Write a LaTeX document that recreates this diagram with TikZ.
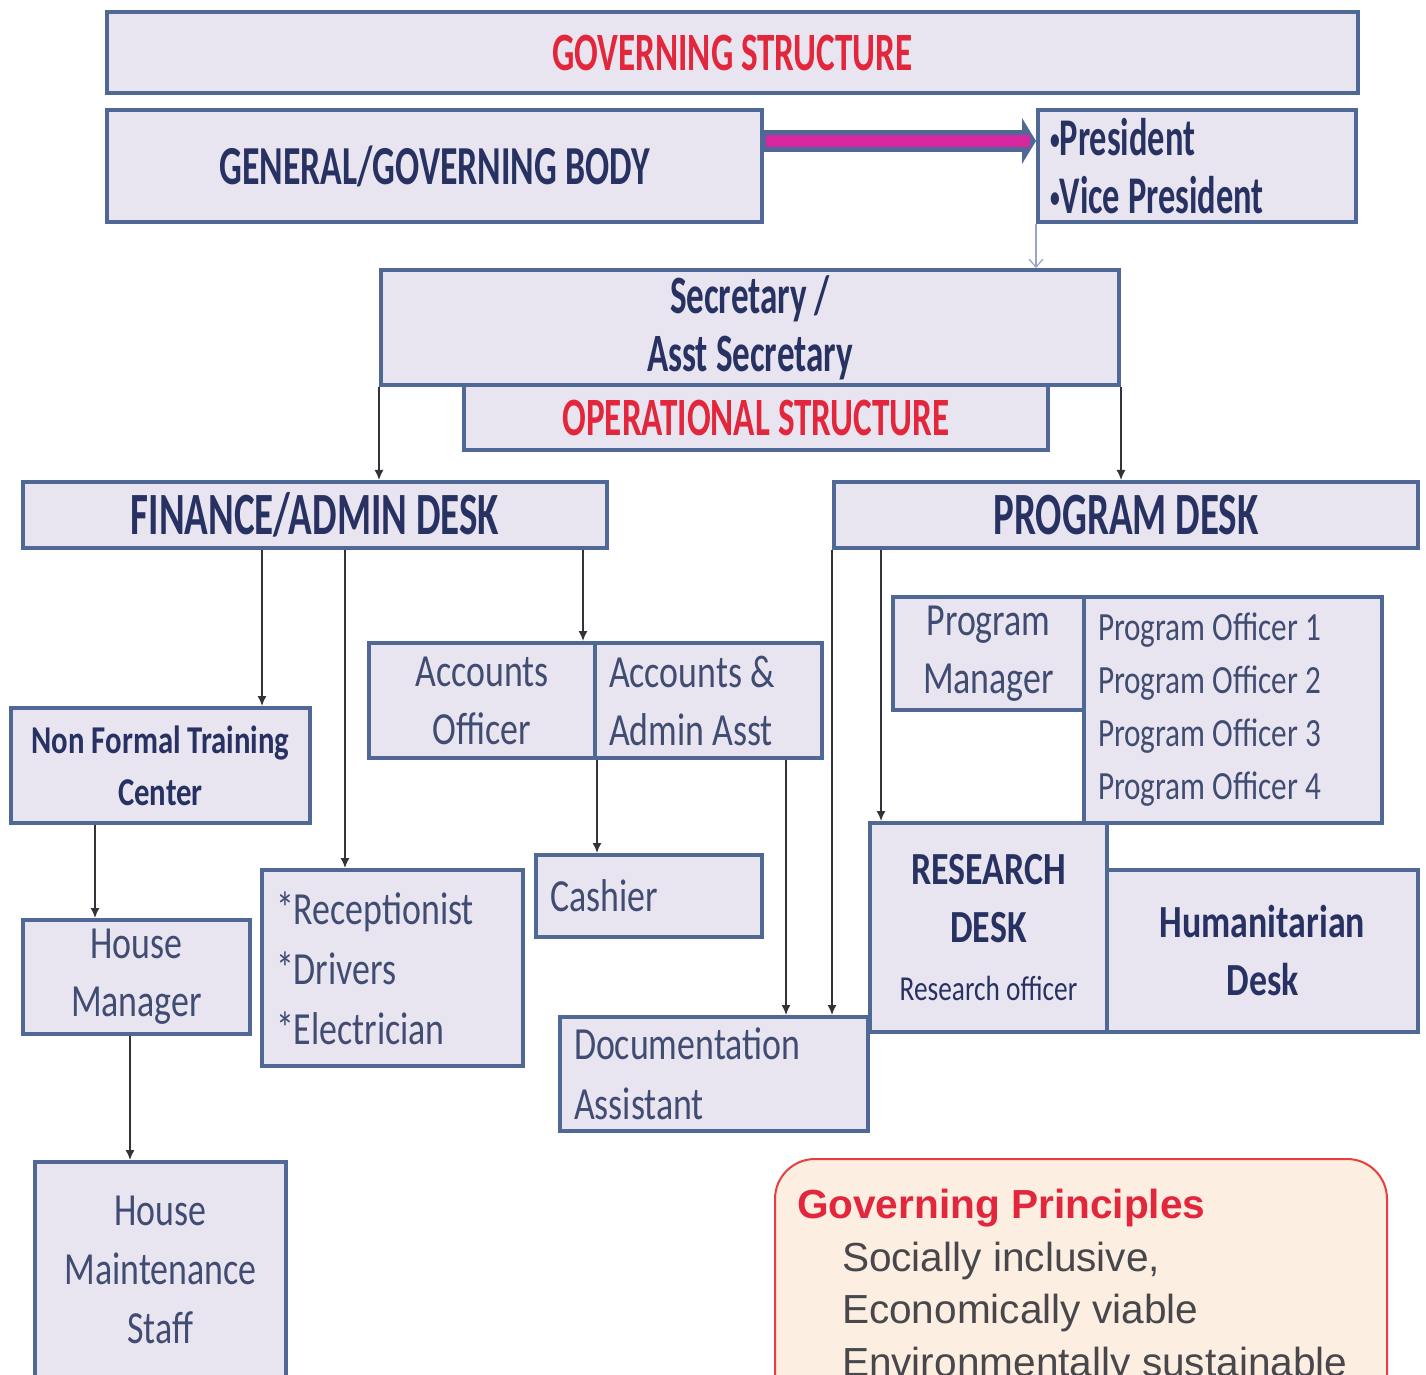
\documentclass[tikz,border=0pt]{standalone}
\usepackage{fontspec}
\usetikzlibrary{arrows.meta}
\newfontfamily\orgfont[FakeStretch=0.78]{Carlito}
\newfontfamily\headfont[FakeStretch=0.65]{Carlito}
\newfontfamily\gpfont{Liberation Sans}
\newcommand\fsz[2]{\fontsize{#1}{#2}\selectfont}
\newcommand\smallbul{{\fsz{15pt}{29pt}\raisebox{3pt}{\textbullet}}}

\definecolor{boxfill}{RGB}{233,229,240}
\definecolor{boxline}{RGB}{79,104,150}
\definecolor{navytext}{RGB}{40,50,98}
\definecolor{softtext}{RGB}{64,76,114}
\definecolor{titlered}{RGB}{226,38,60}
\definecolor{barpink}{RGB}{214,38,160}
\definecolor{arrowgrey}{RGB}{50,50,56}
\definecolor{lightarrow}{RGB}{150,166,202}
\definecolor{gpfill}{RGB}{253,238,226}
\definecolor{gpline}{RGB}{232,62,62}
\definecolor{gptext}{RGB}{72,72,76}

\tikzset{
  orgbox/.style={rectangle, draw=boxline, fill=boxfill, line width=2pt,
    inner sep=0pt, align=center, text=navytext, font=\orgfont\fsz{23pt}{29pt}},
  headbox/.style={orgbox, font=\headfont\bfseries\fsz{#1}{29pt}},
  wh/.style 2 args={minimum width=#1*0.5pt, minimum height=#2*0.5pt},
  lbox/.style 2 args={orgbox, align=flush left, inner xsep=7pt, text width=#1,
    minimum height=#2*0.5pt},
  arr/.style={draw=arrowgrey, line width=0.75pt, -{Latex[length=5pt,width=4.5pt]}},
}

\begin{document}
\begin{tikzpicture}[x=0.5pt, y=-0.5pt]
  \path[use as bounding box, fill=white] (0,0) rectangle (1426,1375);

  % governing structure
  \node[headbox=27pt, wh={1251}{81}, text=titlered] (title) at (732.5,52.5) {GOVERNING STRUCTURE};
  \node[headbox=27.5pt, wh={655}{112}] (gov) at (434.5,166) {GENERAL/GOVERNING BODY};
  \node[lbox={147pt}{112}, font=\headfont\bfseries\fsz{26.5pt}{29pt}, inner xsep=6pt] (pres) at (1197,166) {\smallbul President\\\smallbul Vice President};
  \node[headbox=27pt, wh={738}{115}] (sec) at (750,327.5) {Secretary /\\Asst Secretary};
  \node[headbox=27pt, wh={584}{65}, text=titlered] (ops) at (756,417.5) {OPERATIONAL STRUCTURE};

  % desks
  \begin{scope}[every node/.style={headbox=30pt, wh={584}{66}}]
    \node (fin) at (315,515) {FINANCE/ADMIN DESK};
    \node (prog) at (1126,515) {PROGRAM DESK};
  \end{scope}

  % finance / admin side
  \node[orgbox, wh={299}{115}, font=\orgfont\bfseries\fsz{19.7pt}{26pt}] (nftc) at (160.5,765.5) {Non Formal Training\\Center};
  \node[orgbox, wh={227}{114}, text=softtext] (hm) at (136.5,977) {House\\Manager};
  \node[orgbox, wh={251}{216}, text=softtext, font=\orgfont\fsz{23pt}{29.5pt}] (hms) at (160.5,1270) {House\\Maintenance\\Staff};
  \node[orgbox, wh={226}{115}, text=softtext] (acc) at (482,700.5) {Accounts\\Officer};
  \node[lbox={99.5pt}{115}, text=softtext] (aaa) at (708.5,700.5) {Accounts \&\\Admin Asst};
  \node[lbox={116.5pt}{196}, text=softtext, font=\orgfont\fsz{23pt}{30pt}] (rec) at (392.5,968) {{*}Receptionist\\{*}Drivers\\{*}Electrician};
  \node[lbox={99pt}{82}, text=softtext] (cash) at (649,896) {Cashier};
  \node[lbox={140pt}{114}, text=softtext, font=\orgfont\fsz{23pt}{30pt}] (doc) at (714,1074) {Documentation\\Assistant};

  % program side
  \node[orgbox, wh={191}{113}, text=softtext] (pm) at (988.5,653.5) {Program\\Manager};
  \node[lbox={135pt}{226}, text=softtext, font=\orgfont\fsz{20pt}{26.5pt}] (po) at (1233,710)
    {Program Officer 1\\Program Officer 2\\Program Officer 3\\Program Officer 4};
  \node[orgbox, wh={237}{209}, font=\orgfont\bfseries\fsz{23pt}{29pt}] (res) at (988.5,927.5)
    {RESEARCH\\DESK\\{\mdseries\fsz{17.5pt}{26pt}Research officer}};
  \node[orgbox, wh={311}{162}, font=\orgfont\bfseries\fsz{23pt}{29pt}] (hum) at (1262.5,951) {Humanitarian\\Desk};

  % principles
  \node[rectangle, rounded corners=20pt, draw=gpline, fill=gpfill, line width=1pt,
    anchor=north west, inner xsep=11pt, inner ysep=15pt, text width=284pt, align=flush left,
    text=gptext, font=\gpfont\fsz{20.3pt}{26.3pt}] (gp) at (774,1158)
    {{\color{titlered}\bfseries Governing Principles}\\
     \hspace*{22.5pt}Socially inclusive,\\
     \hspace*{22.5pt}Economically viable\\
     \hspace*{22.5pt}Environmentally sustainable};

  % thick arrow body -> president
  \coordinate (barstart) at (gov.east |- 0,141);
  \coordinate (barend) at (pres.west |- 0,141);
  \draw[boxline, line width=11pt] (barstart) -- ([xshift=-6pt]barend);
  \fill[boxline] ([xshift=-7pt,yshift=11.5pt]barend) -- (barend) -- ([xshift=-7pt,yshift=-11.5pt]barend) -- cycle;
  \draw[barpink, line width=6pt] ([xshift=1pt]barstart) -- ([xshift=-3pt]barend);

  \draw[lightarrow, line width=0.6pt, -{Straight Barb[length=4pt,width=7pt]}] (pres.south west) -- (pres.south west |- sec.north);

  \begin{scope}[every edge/.style={arr}]
    \draw (sec.south west) edge (sec.south west |- fin.north);
    \draw (sec.south east) edge (sec.south east |- prog.north);
    \draw (fin.south -| 262,0) edge (nftc.north -| 262,0);
    \draw (fin.south -| 345,0) edge (rec.north -| 345,0);
    \draw (fin.south -| 583,0) edge (acc.north -| 583,0);
    \draw (nftc.south -| 95,0) edge (hm.north -| 95,0);
    \draw (hm.south -| 130,0) edge (hms.north -| 130,0);
    \draw (acc.south east) edge (acc.south east |- cash.north);
    \draw (aaa.south -| 786,0) edge (doc.north -| 786,0);
    \draw (prog.south west) edge (prog.south west |- doc.north);
    \draw (prog.south -| 881,0) edge (res.north -| 881,0);
  \end{scope}
\end{tikzpicture}
\end{document}
